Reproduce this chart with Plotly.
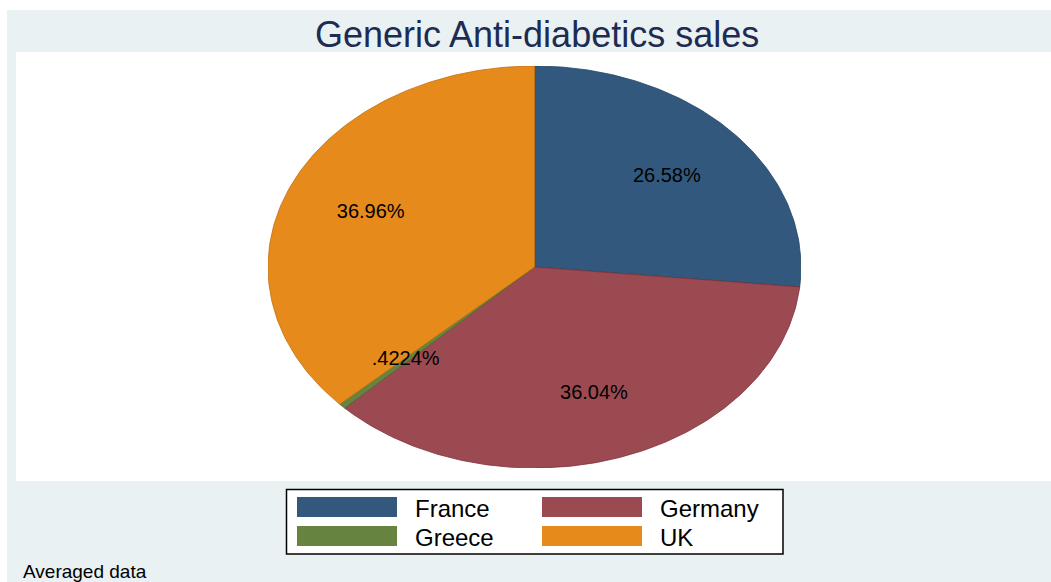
import numpy as np
import plotly.graph_objects as go

# ---- data ----
categories = ["France", "Germany", "Greece", "UK"]
shares = [26.58, 36.04, 0.4224, 36.96]
colors = ["#32597D", "#9C4A51", "#66843F", "#E68A1B"]
edge_colors = ["#1F4466", "#7E3038", "#4E6A2C", "#C4700A"]
title_text = "Generic Anti-diabetics sales"
note_text = "Averaged data"

W, H = 1051, 582
FONT = "Liberation Sans, Arial, sans-serif"


def px(x):
    return x / W


def py(y):
    return 1 - y / H


def fmt(v):
    s = f"{v:.4g}"
    if s.startswith("0."):
        s = s[1:]
    return s + "%"


fig = go.Figure()

total = sum(shares)
start = 0.0
label_x, label_y, label_t = [], [], []
for name, v, c, ec in zip(categories, shares, colors, edge_colors):
    frac0 = start / total
    frac1 = (start + v) / total
    n = max(3, int(400 * (frac1 - frac0)))
    # clockwise from 12 o'clock
    ang = np.pi / 2 - 2 * np.pi * np.linspace(frac0, frac1, n)
    xs = np.concatenate([[0], np.cos(ang), [0]])
    ys = np.concatenate([[0], np.sin(ang), [0]])
    fig.add_trace(go.Scatter(
        x=xs, y=ys, mode="lines", fill="toself", fillcolor=c,
        line=dict(color=ec, width=0.8), name=name, hoverinfo="name",
        showlegend=False))
    mid = np.pi / 2 - 2 * np.pi * (frac0 + frac1) / 2
    label_x.append(0.67 * np.cos(mid))
    label_y.append(0.67 * np.sin(mid))
    label_t.append(fmt(v))
    start += v

fig.add_trace(go.Scatter(
    x=label_x, y=label_y, mode="text", text=label_t,
    textfont=dict(family=FONT, size=20, color="black"),
    textposition="middle center", hoverinfo="skip", showlegend=False))

shapes = [
    dict(type="rect", xref="paper", yref="paper", x0=px(7), x1=px(1051),
         y0=py(582), y1=py(10), fillcolor="#EAF1F3", line=dict(width=0),
         layer="below"),
    dict(type="rect", xref="paper", yref="paper", x0=px(16), x1=px(1051),
         y0=py(481), y1=py(52), fillcolor="white", line=dict(width=0),
         layer="below"),
    dict(type="rect", xref="paper", yref="paper", x0=px(286.5), x1=px(783),
         y0=py(554), y1=py(489.5), fillcolor="white",
         line=dict(color="black", width=1.5), layer="below"),
]
annotations = [
    dict(text=title_text, x=px(537), y=py(34), xref="paper", yref="paper",
         showarrow=False, xanchor="center", yanchor="middle",
         font=dict(family=FONT, size=36, color="#1E2B53")),
    dict(text=note_text, x=px(21), y=py(571), xref="paper", yref="paper",
         showarrow=False, xanchor="left", yanchor="middle",
         font=dict(family=FONT, size=19, color="black")),
]

# legend (two columns)
for i, (name, c) in enumerate(zip(categories, colors)):
    col, row = i % 2, i // 2
    sx = 297 + col * 245
    sy = 497 + row * 29
    shapes.append(dict(type="rect", xref="paper", yref="paper",
                       x0=px(sx), x1=px(sx + 100), y0=py(sy + 20), y1=py(sy),
                       fillcolor=c, line=dict(width=0)))
    annotations.append(dict(text=name, x=px(sx + 116), y=py(sy + 11),
                            xref="paper", yref="paper", showarrow=False,
                            xanchor="left", yanchor="middle",
                            font=dict(family=FONT, size=24, color="black")))

fig.update_layout(
    width=W, height=H,
    margin=dict(l=0, r=0, t=0, b=0),
    paper_bgcolor="white", plot_bgcolor="rgba(0,0,0,0)",
    xaxis=dict(domain=[px(268), px(801)], range=[-1, 1], visible=False,
               fixedrange=True),
    yaxis=dict(domain=[py(468), py(66)], range=[-1, 1], visible=False,
               fixedrange=True),
    shapes=shapes, annotations=annotations,
    showlegend=False,
)

fig.write_html(
    "out.html",
    config={"displayModeBar": False},
    post_script="document.body.style.margin='0';document.body.style.overflow='hidden';",
)
